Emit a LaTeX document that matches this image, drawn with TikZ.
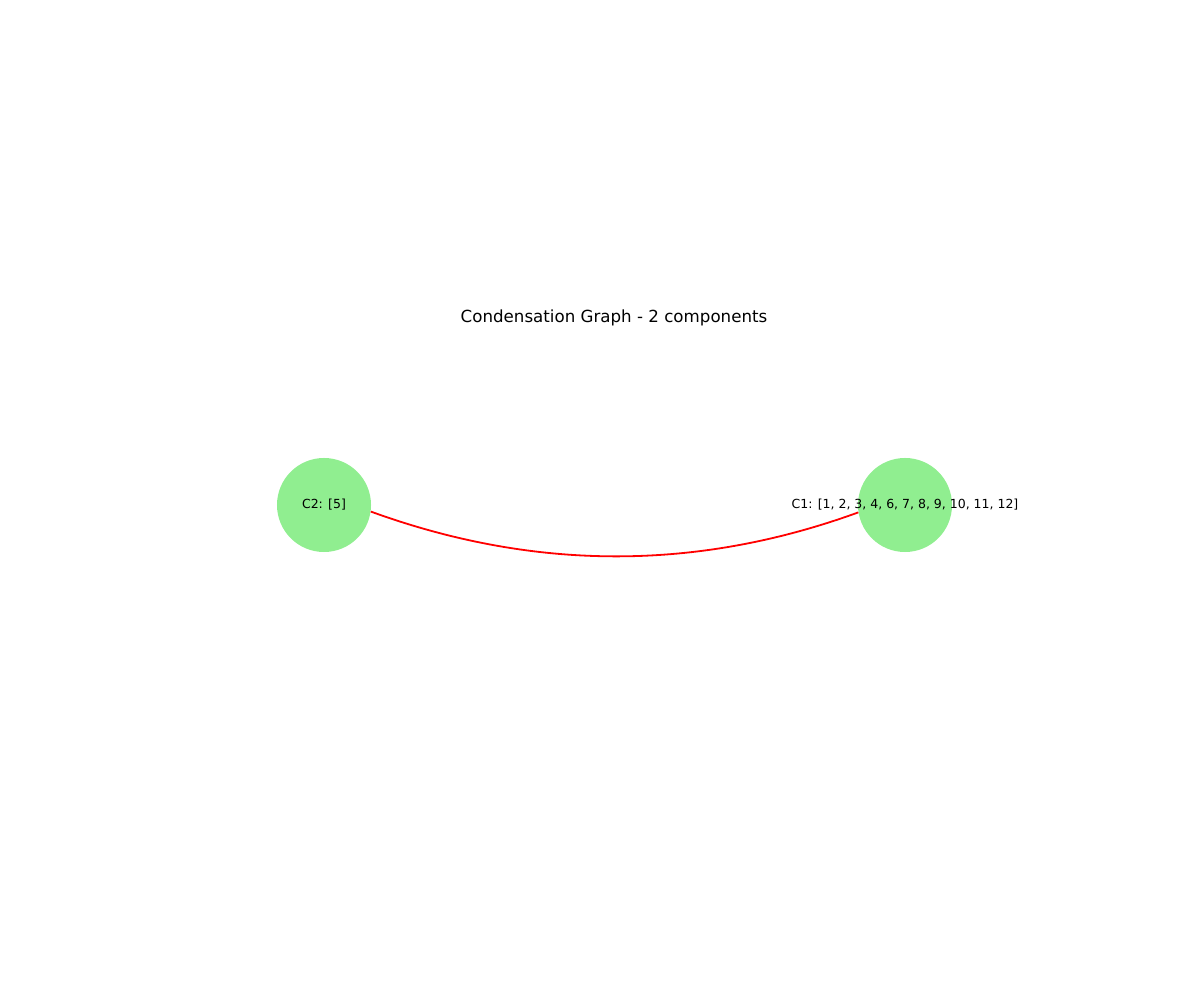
\documentclass[tikz,border=0pt]{standalone}
\usepackage{fontspec}
\setmainfont{DejaVu Sans}
\usepackage{tikz}
\definecolor{lightgreen}{HTML}{90EE90}
\begin{document}
\begin{tikzpicture}[
  x=0.72pt, y=0.72pt,
  component/.style={circle, fill=lightgreen, minimum size=67.7pt, inner sep=0pt},
  component label/.style={font=\fontsize{9}{11}\selectfont},
  condensed edge/.style={draw=red, line width=1.3pt}
]
\useasboundingbox (0,0) rectangle (1200,1000);
\node[font=\fontsize{12}{14}\selectfont] (title) at (614,682) {Condensation Graph - 2 components};
\node[component, label={[component label, name=C2-label]center:{C2: [5]}}] (C2) at (324,495) {};
\node[component, label={[component label, name=C1-label]center:{C1: [1, 2, 3, 4, 6, 7, 8, 9, 10, 11, 12]}}] (C1) at (905,495) {};
\path[condensed edge] (C2.-8.5) to[out=-20, in=-160, looseness=0.91] (C1.-171.5);
\end{tikzpicture}
\end{document}
